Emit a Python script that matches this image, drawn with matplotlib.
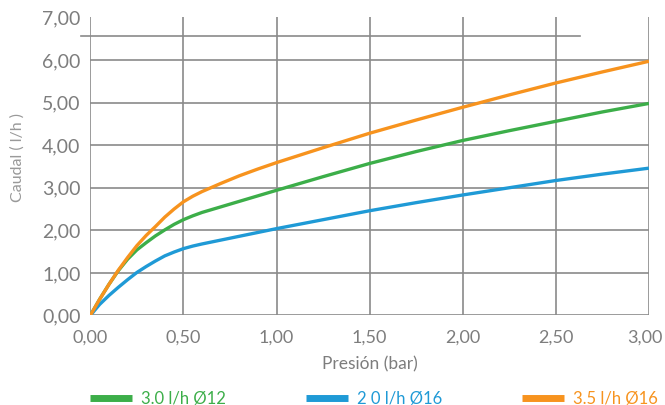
import numpy as np
import matplotlib.pyplot as plt
import matplotlib.transforms as mtransforms

# values
presion = [0, 0.05, 0.1, 0.15, 0.2, 0.25, 0.3, 0.35, 0.4, 0.45, 0.5, 0.55, 0.6,
           0.7, 0.8, 0.9, 1.0, 1.25, 1.5, 1.75, 2.0, 2.25, 2.5, 2.75, 3.0]
caudal_30_12 = [0, 0.38, 0.73, 1.05, 1.32, 1.54, 1.71, 1.87, 2.01, 2.14, 2.25, 2.34, 2.42,
                2.55, 2.68, 2.81, 2.94, 3.26, 3.57, 3.85, 4.11, 4.34, 4.56, 4.78, 4.98]
caudal_20_16 = [0, 0.26, 0.47, 0.66, 0.84, 1.01, 1.15, 1.28, 1.40, 1.49, 1.57, 1.63, 1.68,
                1.77, 1.86, 1.95, 2.04, 2.25, 2.46, 2.65, 2.83, 3.00, 3.17, 3.32, 3.46]
caudal_35_16 = [0, 0.38, 0.73, 1.06, 1.36, 1.64, 1.88, 2.09, 2.31, 2.50, 2.67, 2.80, 2.91,
                3.10, 3.28, 3.44, 3.59, 3.94, 4.28, 4.59, 4.89, 5.18, 5.46, 5.72, 5.97]
labels = ["3.0 l/h Ø12", "2 0 l/h Ø16", "3.5 l/h Ø16"]
colors = ["#3cae49", "#1f9ad6", "#f7931e"]

x_ticks = [0, 0.5, 1.0, 1.5, 2.0, 2.5, 3.0]
y_ticks = [0, 1, 2, 3, 4, 5, 6, 7]

plt.rcParams["font.family"] = ["Lato", "DejaVu Sans"]
grey = "#8a8a8a"
text_grey = "#7d7d7d"

fig = plt.figure(figsize=(6.65, 4.05), dpi=100)
ax = fig.add_axes([0.1358, 0.221, 0.840, 0.736])

# grid
ax.hlines(y_ticks[:-1], 0, 3, color=grey, lw=1.2, zorder=1)
ax.vlines(x_ticks, 0, 7, color=grey, lw=1.2, zorder=1)
# stray line near the top
ax.plot([-0.05, 2.63], [6.56, 6.56], color=grey, lw=1.2, clip_on=False, zorder=1)

series = [caudal_30_12, caudal_20_16, caudal_35_16]
for ys, lab, c in zip(series, labels, colors):
    ax.plot(presion, ys, color=c, lw=2.4, label=lab, solid_capstyle="butt", zorder=3)

ax.set_xlim(0, 3)
ax.set_ylim(0, 7)
for s in ax.spines.values():
    s.set_visible(False)

ax.set_xticks(x_ticks)
ax.set_xticklabels([f"{v:.2f}".replace(".", ",") for v in x_ticks])
ax.set_yticks(y_ticks)
ax.set_yticklabels([f"{v:.2f}".replace(".", ",") for v in y_ticks])
ax.tick_params(length=0, labelsize=14, colors=text_grey)
ax.tick_params(axis="x", pad=10, labelsize=13)
ax.tick_params(axis="y", pad=7)

# nudge the last x label a little left so it stays inside the image
last = ax.get_xticklabels()[-1]
last.set_transform(last.get_transform() +
                   mtransforms.ScaledTranslation(-3 / 72, 0, fig.dpi_scale_trans))

ax.set_xlabel("Presión (bar)", fontsize=12.5, color=text_grey, labelpad=8)
ax.set_ylabel("Caudal ( l/h )", fontsize=11.5, color="#999999", labelpad=12)
ax.yaxis.set_label_coords(-0.118, 0.53)

leg = fig.legend(loc="center left", bbox_to_anchor=(0.113, 0.016), ncol=3,
                 frameon=False, fontsize=12, handlelength=2.5, handletextpad=0.55,
                 columnspacing=4.8)
for line in leg.get_lines():
    line.set_linewidth(5)
for txt, c in zip(leg.get_texts(), colors):
    txt.set_color(c)

fig.savefig("out.png", dpi=100)
